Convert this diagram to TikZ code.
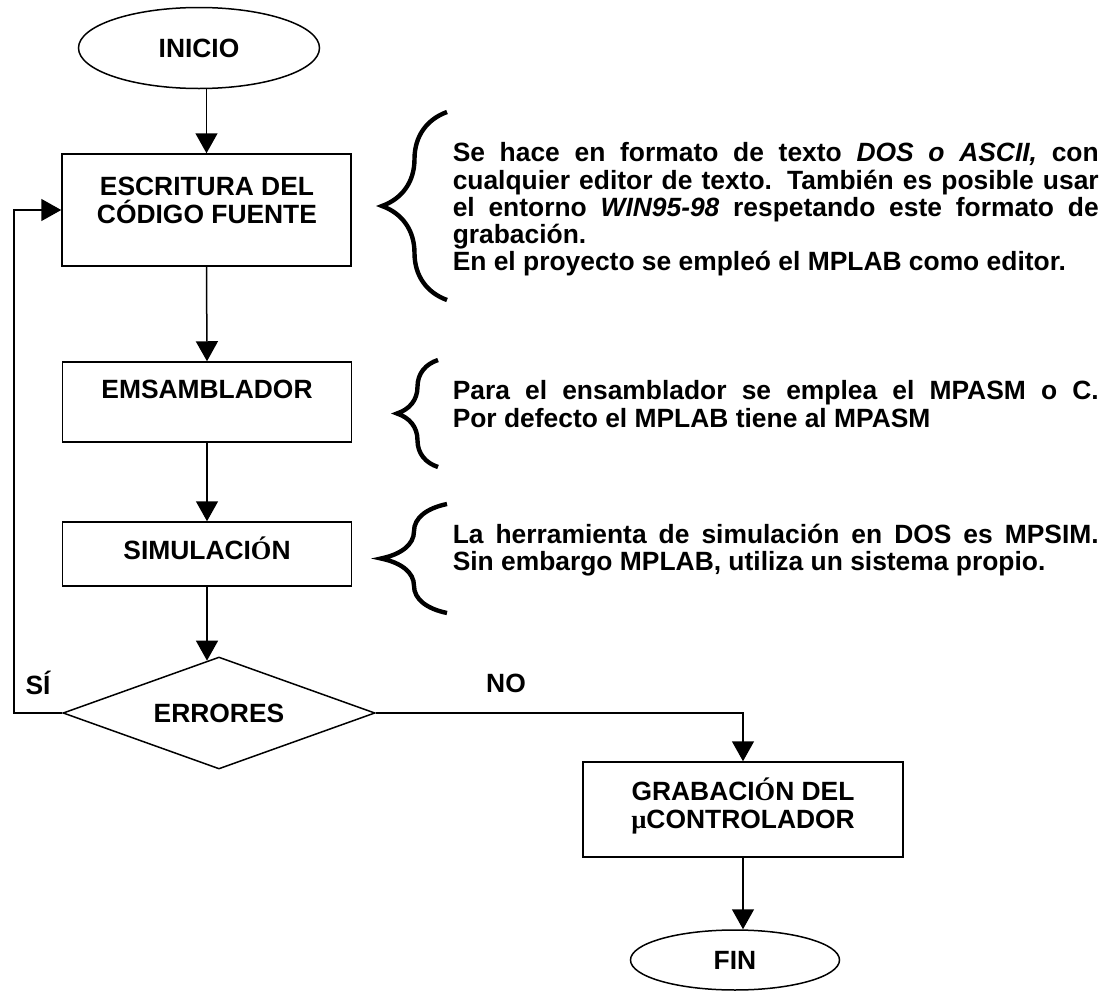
\documentclass[tikz,border=0pt]{standalone}
\usepackage{fontspec}
\setmainfont{Liberation Sans}
\newfontfamily\serifglyph{Liberation Serif}
\usetikzlibrary{shapes.geometric}
\usetikzlibrary{arrows.meta}
\usetikzlibrary{decorations.pathreplacing}
\begin{document}
\begin{tikzpicture}[x=0.5pt,y=-0.5pt,->,>={Triangle[length=10pt,width=11pt]},
    line width=0.75pt,font=\fontsize{13.2pt}{14pt}\selectfont\bfseries,
    proc node/.style={rectangle,draw,inner sep=0pt,minimum width=144.5pt},
    term node/.style={ellipse,draw,inner sep=0pt},
    dec node/.style={diamond,draw,inner sep=0pt,aspect=2.79,minimum width=156pt,minimum height=56pt},
    box text/.style={align=center,inner sep=0pt},
    note text/.style={anchor=north west,inner sep=0pt,text width=323pt,align=justify,
      font=\fontsize{13.2pt}{13.6pt}\selectfont\bfseries},
    curly/.style={-,line width=2.2pt,decorate,decoration={brace,amplitude=#1}}]
  \useasboundingbox (0,0) rectangle (1116,991);

  % flow chart
  \node[term node,minimum width=120.5pt,minimum height=40.5pt] (ini) at (199,48) {INICIO};
  \node[proc node,minimum height=56pt] (esc) at (206.5,210) {};
  \node[box text] (escT) at (207,200) {ESCRITURA DEL\\CÓDIGO FUENTE};
  \node[proc node,minimum height=40pt] (ens) at (207,402) {};
  \node[box text] (ensT) at (207,389) {EMSAMBLADOR};
  \node[proc node,minimum height=32pt] (sim) at (207,554) {};
  \node[box text] (simT) at (207,548) {SIMULACI{\serifglyph Ó}N};
  \node[dec node] (err) at (219,713) {ERRORES};
  \node[proc node,minimum width=160pt,minimum height=47.5pt] (grab) at (743,809.5) {};
  \node[box text] (grabT) at (743,806) {GRABACI{\serifglyph Ó}N DEL\\{\serifglyph µ}CONTROLADOR};
  \node[term node,minimum width=104.5pt,minimum height=30pt] (fin) at (735,960) {FIN};
  \node (si) at (38,683) {SÍ};
  \node (no) at (506,683) {NO};
  \coordinate (ret) at (14,713);

  \draw (esc.north |- ini.south) -- (esc.north);
  \draw (esc.south) -- (ens.north);
  \draw (ens.south) -- (sim.north);
  \draw (sim.south) -- (sim.south |- err.103);
  \draw (err.west) -- (ret) |- (esc.west);
  \draw (err.east) -| (grab.north);
  \draw (grab.south) -- (grab.south |- fin.north);

  % notes
  \node[note text] (n1) at (452,142) {Se hace en formato de texto \textit{DOS o ASCII,} con\linebreak
    cualquier editor de texto. También es posible usar\linebreak
    el entorno \textit{WIN95-98} respetando este formato de\linebreak
    grabación.\newline
    En el proyecto se empleó el MPLAB como editor.};
  \node[note text] (n2) at (452,380) {Para el ensamblador se emplea el MPASM o C.\linebreak
    Por defecto el MPLAB tiene al MPASM};
  \node[note text] (n3) at (452,523) {La herramienta de simulación en DOS es MPSIM.\linebreak
    Sin embargo MPLAB, utiliza un sistema propio.};

  \draw[curly=32.5pt] (447,300) -- (447,112);
  \draw[curly=20.5pt] (438,467) -- (438,360);
  \draw[curly=33pt] (447,613) -- (447,504);
\end{tikzpicture}
\end{document}
